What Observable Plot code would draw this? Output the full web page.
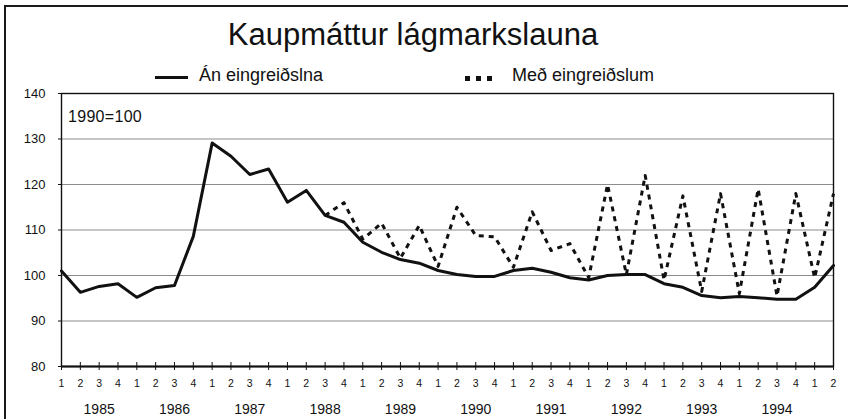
<!DOCTYPE html>
<html>
<head>
<meta charset="utf-8">
<script src="https://cdn.jsdelivr.net/npm/d3@7"></script>
<script src="https://cdn.jsdelivr.net/npm/@observablehq/plot@0.6"></script>
<style>
  html, body { margin: 0; padding: 0; background: #fff; }
  #wrap { position: relative; width: 848px; height: 419px; overflow: hidden; background: #fff;
          font-family: "Liberation Sans", Arial, sans-serif; color: #111; }
  #border { position: absolute; left: 4px; top: 5px; right: -20px; bottom: -20px;
            border-left: 2px solid #1a1a1a; border-top: 2px solid #1a1a1a; }
  #title { position: absolute; left: 0; width: 826px; top: 19px; text-align: center;
           font-size: 31px; line-height: 31px; white-space: nowrap; }
  .leg { position: absolute; top: 66px; font-size: 18px; line-height: 18px; white-space: nowrap; }
  .sw { position: absolute; background: #111; }
  #base { position: absolute; left: 68px; top: 109px; font-size: 16px; line-height: 16px; letter-spacing: 0.3px; }
  #chart { position: absolute; left: 0; top: 80px; }
</style>
</head>
<body>
<div id="wrap">
  <div id="border"></div>
  <div id="title">Kaupmáttur lágmarkslauna</div>
  <div class="sw" style="left:155px;top:76px;width:33px;height:3px"></div>
  <div class="leg" style="left:199px">Án eingreiðslna</div>
  <div class="sw" style="left:465px;top:76px;width:5px;height:5px"></div>
  <div class="sw" style="left:476px;top:76px;width:5px;height:5px"></div>
  <div class="sw" style="left:487px;top:76px;width:5px;height:5px"></div>
  <div class="leg" style="left:512px">Með eingreiðslum</div>
  <div id="chart"></div>
  <div id="base">1990=100</div>
</div>
<script>
// Quarter tick labels, 1985 Q1 .. 1995 Q2
const quarterLabels = [
  "1","2","3","4", "1","2","3","4", "1","2","3","4", "1","2","3","4", "1","2","3","4",
  "1","2","3","4", "1","2","3","4", "1","2","3","4", "1","2","3","4", "1","2","3","4",
  "1","2"
];
const years = [1985, 1986, 1987, 1988, 1989, 1990, 1991, 1992, 1993, 1994];
const yTicks = [80, 90, 100, 110, 120, 130, 140];

// Án eingreiðslna (solid)
const solidValues = [
  101.0, 96.3, 97.6, 98.2,
  95.2, 97.3, 97.8, 108.6,
  129.1, 126.2, 122.2, 123.4,
  116.1, 118.7, 113.2, 111.7,
  107.3, 105.1, 103.5, 102.7,
  101.1, 100.2, 99.8, 99.8,
  101.1, 101.6, 100.7, 99.5,
  99.0, 100.0, 100.2, 100.2,
  98.2, 97.4, 95.6, 95.1,
  95.4, 95.1, 94.8, 94.8,
  97.4, 102.2
];

// Með eingreiðslum (dashed), starts 1988 Q3
const dashedValues = [
  null, null, null, null,
  null, null, null, null,
  null, null, null, null,
  null, null, 113.2, 116.0,
  108.0, 111.5, 103.8, 111.0,
  102.0, 115.0, 108.8, 108.5,
  101.8, 114.0, 105.5, 107.0,
  99.5, 120.0, 100.2, 122.0,
  99.0, 117.5, 96.5, 118.0,
  96.0, 119.0, 95.5, 118.0,
  99.5, 118.0
];

const rows = quarterLabels.map((q, i) => ({i, solid: solidValues[i], dashed: dashedValues[i]}));
const qIdx = quarterLabels.map((_, i) => i);
const yearIdx = years.map((_, k) => k * 4 + 2);

const chart = Plot.plot({
  width: 848,
  height: 339,
  marginTop: 13,
  marginBottom: 53,
  marginLeft: 61,
  marginRight: 15,
  x: {domain: [0, quarterLabels.length - 1], axis: null},
  y: {domain: [80, 140], axis: null},
  style: {fontFamily: "'Liberation Sans', Arial, sans-serif", color: "#111", background: "transparent", overflow: "visible"},
  marks: [
    Plot.gridY(yTicks.filter(t => t > 80 && t < 140), {stroke: "#8c8c8c", strokeOpacity: 1, strokeWidth: 1}),
    Plot.frame({stroke: "#111", strokeWidth: 1.4}),
    Plot.ruleY([80], {stroke: "#111", strokeWidth: 2}),
    Plot.axisY(yTicks, {label: null, tickSize: 3, tickPadding: 13, fontSize: 13, tickFormat: d => String(d)}),
    Plot.axisX(qIdx, {label: null, tickSize: 8, dy: -4, tickFormat: () => "", stroke: "#111"}),
    Plot.axisX(qIdx, {label: null, tickSize: 0, tickPadding: 13.5, fontSize: 10.5, tickFormat: d => quarterLabels[d]}),
    Plot.axisX(yearIdx, {label: null, tickSize: 0, tickPadding: 38, fontSize: 14, tickFormat: d => String(years[(d - 2) / 4])}),
    Plot.line(rows, {x: "i", y: "dashed", stroke: "#111", strokeWidth: 3, strokeDasharray: "5,5", strokeLinecap: "butt"}),
    Plot.line(rows, {x: "i", y: "solid", stroke: "#111", strokeWidth: 3, strokeLinejoin: "round"})
  ]
});
document.getElementById("chart").appendChild(chart);
</script>
</body>
</html>
